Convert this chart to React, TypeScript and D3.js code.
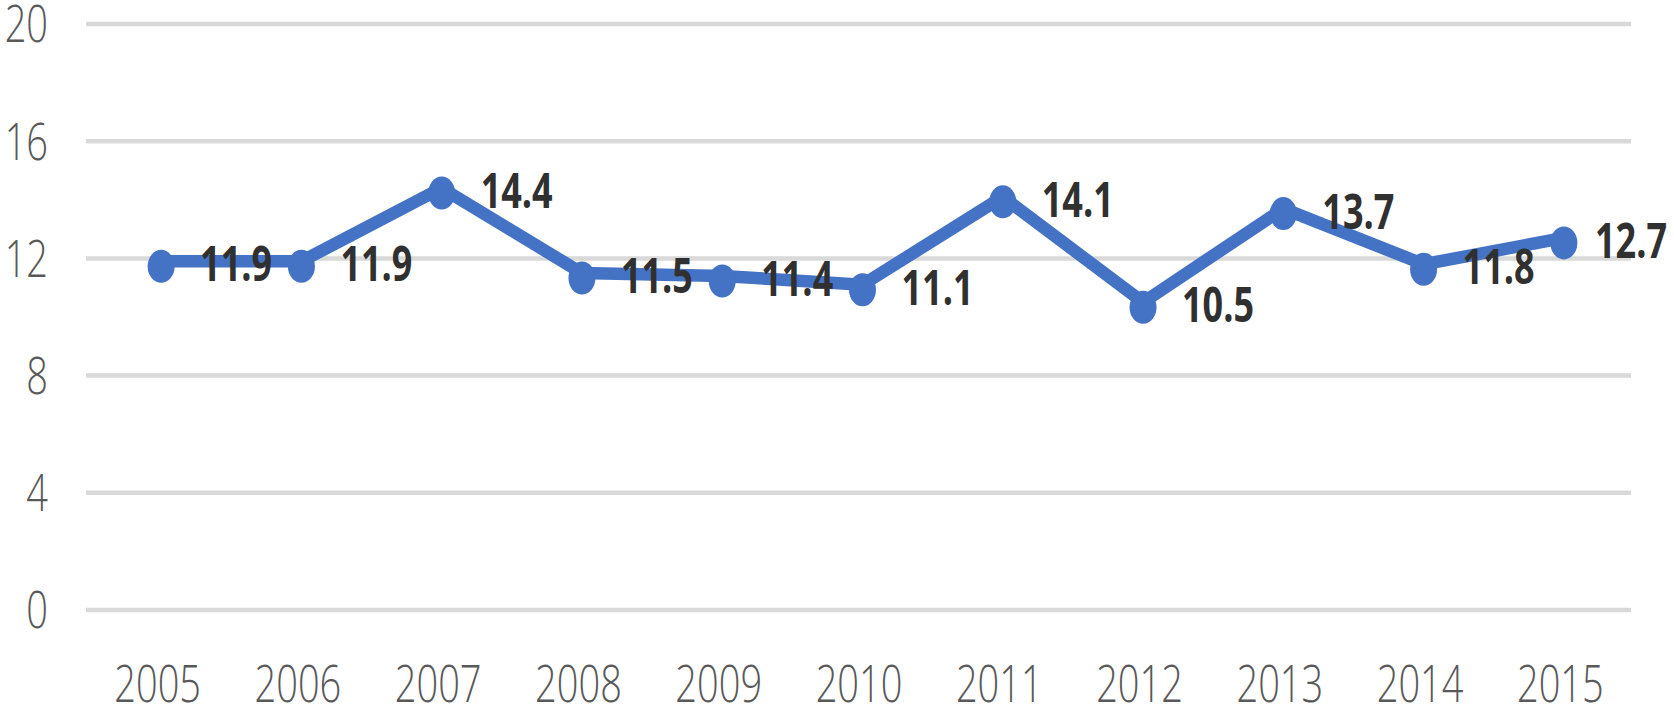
import React from 'react';
import * as d3 from 'd3';

const years = ['2005', '2006', '2007', '2008', '2009', '2010', '2011', '2012', '2013', '2014', '2015'];
const values = [11.9, 11.9, 14.4, 11.5, 11.4, 11.1, 14.1, 10.5, 13.7, 11.8, 12.7];
const yTicks = [0, 4, 8, 12, 16, 20];

const W = 1674;
const H = 708;
const SY = 1.36;
const FONT = '"Open Sans", "Noto Sans", sans-serif';

export default function App() {
  const x = d3.scaleBand<string>().domain(years).range([87.5, 1630.5]);
  const y = d3.scaleLinear().domain([0, 20]).range([610, 24]);
  const cx = (d: string) => (x(d) as number) + x.bandwidth() / 2;
  const px = (d: string) => cx(d) + 3.5;
  const pts: [number, number][] = years.map((d, i) => [px(d), y(values[i])]);
  const line = d3.line()(pts) as string;

  const tickSize = 38;
  const lblSize = 36;

  return (
    <svg width={W} height={H} style={{ position: 'fixed', left: 0, top: 0, background: '#fff' }}>
      <rect x={0} y={0} width={W} height={H} fill="#fff" />
      {yTicks.map((t) => (
        <g key={t}>
          <line x1={86} x2={1631} y1={y(t)} y2={y(t)} stroke="#d9d9d9" strokeWidth={4.5} />
          <text
            transform={`translate(48,${y(t)}) scale(1,${SY})`}
            y={0.357 * tickSize}
            textAnchor="end"
            fontFamily={FONT}
            fontWeight={350}
            fontSize={tickSize}
            fill="#595959"
          >
            {t}
          </text>
        </g>
      ))}
      {years.map((d) => (
        <text
          key={d}
          transform={`translate(${cx(d)},${683.5}) scale(1,${SY})`}
          y={0.357 * tickSize}
          textAnchor="middle"
          fontFamily={FONT}
          fontWeight={350}
          fontSize={tickSize}
          fill="#595959"
        >
          {d}
        </text>
      ))}
      <path d={line} fill="none" stroke="#4472c4" strokeWidth={12.5} strokeLinejoin="round" />
      {pts.map(([a, b], i) => (
        <ellipse key={i} cx={a} cy={b + 5} rx={13.5} ry={16.5} fill="#4472c4" />
      ))}
      {pts.map(([a, b], i) => (
        <text
          key={'l' + i}
          transform={`translate(${Math.min(a + 111, W - 7)},${b + 2.5}) scale(1,${SY})`}
          y={0.357 * lblSize}
          textAnchor="end"
          fontFamily={FONT}
          fontWeight="bold"
          fontSize={lblSize}
          fill="#303030"
        >
          {values[i].toFixed(1)}
        </text>
      ))}
    </svg>
  );
}
